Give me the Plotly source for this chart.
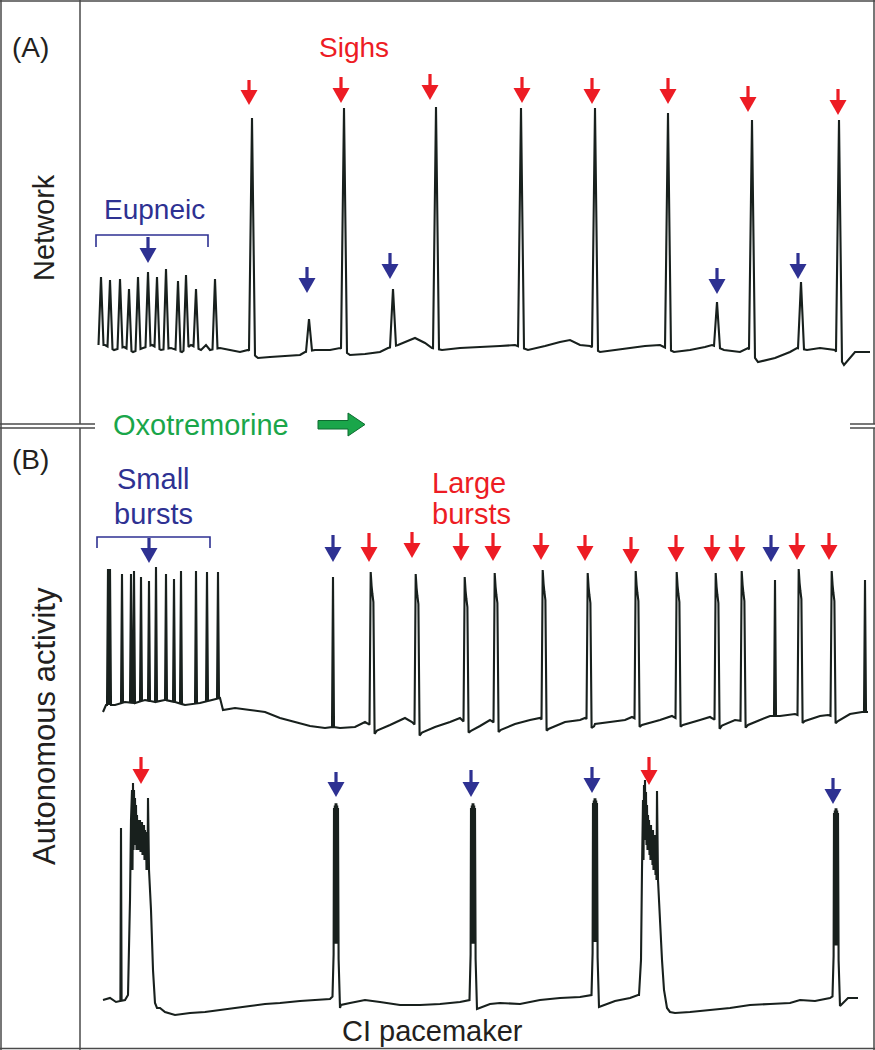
import numpy as np
import plotly.graph_objects as go

# ================= DATA =================
# time axis in arbitrary units, amplitudes in arbitrary units (baseline ~ 0-30)

# ---- Panel A : network recording ----
A_base_t = [100, 105, 114, 124, 133, 143, 152, 161, 171, 182, 191, 201, 206, 210, 220, 230, 240, 248,
            258, 270, 285, 300, 305, 315, 330, 340, 350, 365, 380, 388, 398, 410, 415, 425, 432, 442,
            460, 480, 500, 515, 528, 545, 560, 570, 580, 590, 600, 615, 630, 645, 660, 674, 690, 705,
            712, 724, 740, 748, 758, 775, 790, 797, 807, 820, 835, 844, 855, 870]
A_base_v = [15, 15, 10, 13, 8, 12, 15, 10, 12, 8, 15, 10, 15, 10, 12, 10, 8, 10,
            2, 3, 4, 5, 8, 10, 10, 12, 5, 6, 8, 12, 15, 20, 22, 17, 12, 10,
            12, 13, 14, 15, 10, 14, 18, 20, 15, 14, 8, 10, 12, 14, 15, 8, 10, 13,
            15, 10, 8, 12, -2, 2, 8, 12, 10, 12, 10, -5, 8, 8]
A_eupneic_t = [101, 110, 120, 129, 138, 148, 157, 166, 178, 186, 196, 215]
A_eupneic_v = [83, 80, 81, 71, 83, 88, 83, 91, 79, 85, 71, 81]
A_sigh_t = [252, 344, 436, 521, 595, 668, 752, 839]
A_sigh_v = [242, 252, 253, 252, 252, 247, 240, 240]
A_small_t = [309, 393, 717, 801]
A_small_v = [41, 71, 58, 78]

# ---- Panel B (upper) : autonomous activity ----
B1_base_t = [103, 106, 115, 125, 135, 145, 155, 165, 175, 185, 200, 212, 220, 223, 235, 250, 265, 280,
             295, 310, 325, 333, 340, 355, 365, 375, 390, 405, 412, 420, 435, 450, 460, 470, 480, 490,
             500, 515, 530, 540, 548, 565, 580, 585, 595, 610, 625, 632, 642, 660, 672, 683, 700, 710,
             720, 735, 748, 760, 770, 780, 795, 805, 820, 828, 838, 850, 862, 868]
B1_base_v = [18, 25, 25, 28, 27, 30, 28, 30, 28, 25, 27, 30, 32, 20, 22, 20, 18, 12,
             8, 4, 2, 3, 2, 3, 8, 2, 5, 12, 8, 0, 3, 8, 12, 2, 4, 10,
             3, 6, 10, 12, 4, 8, 10, 12, 6, 8, 10, 13, 8, 10, 14, 8, 10, 13,
             7, 10, 8, 10, 14, 14, 16, 12, 14, 15, 12, 16, 18, 18]
B1_smallburst_t = [108, 110, 122, 131, 134, 141, 149, 156, 166, 174, 181, 196, 207, 218]
B1_smallburst_v = [161, 161, 156, 156, 159, 153, 149, 163, 156, 151, 159, 159, 158, 158]
B1_single_t = [333, 775, 865]
B1_single_v = [153, 150, 150]
B1_large_t = [371, 416, 465, 495, 543, 588, 636, 677, 716, 742, 799, 832]
B1_large_v = [158, 156, 153, 157, 160, 157, 159, 158, 157, 159, 161, 159]

# ---- Panel B (lower) : CI pacemaker ----
B2_base_t = [103, 110, 116, 125, 128, 156, 160, 165, 175, 190, 205, 220, 235, 250, 265, 280, 300, 315,
             330, 333, 341, 350, 365, 380, 400, 420, 440, 460, 470, 477, 490, 500, 520, 540, 560, 580,
             592, 599, 615, 630, 638, 668, 675, 690, 710, 730, 750, 770, 790, 800, 815, 830, 833, 840,
             848, 858]
B2_base_v = [20, 22, 18, 20, 25, 17, 12, 8, 5, 7, 8, 10, 12, 14, 16, 17, 19, 20,
             21, 24, 15, 17, 20, 18, 15, 15, 16, 18, 20, 15, 16, 17, 16, 20, 22, 23,
             25, 17, 19, 22, 25, 10, 7, 8, 10, 12, 15, 16, 17, 20, 19, 22, 24, 18,
             22, 22]
B2_thin_t = [121]
B2_thin_v = [192]
B2_pacemaker_t = [336, 473, 595, 836]
B2_pacemaker_v = [218, 218, 223, 213]
B2_plateau1_t = [128, 130, 131, 132,
                 132.5, 133, 133.5, 134, 134.5, 135, 135.5, 136, 136.5, 137, 137.5, 138, 138.5, 139,
                 139.5, 140, 140.5, 141, 141.5, 142, 142.5, 143, 143.5, 144, 144.5, 145, 145.5, 146,
                 146.5, 147, 147.5, 148,
                 149, 151, 153, 155, 157]
B2_plateau1_v = [25, 120, 200, 230,
                 150, 237, 170, 230, 175, 222, 180, 215, 170, 205, 175, 200, 170, 198,
                 172, 200, 168, 195, 170, 198, 165, 195, 168, 195, 160, 190, 160, 188,
                 150, 185, 150, 222,
                 150, 110, 50, 17, 12]
B2_plateau2_t = [639, 641, 642,
                 643, 643.5, 644, 644.5, 645, 645.5, 646, 646.5, 647, 647.5, 648, 648.5, 649, 649.5,
                 650, 650.5, 651, 651.5, 652, 652.5, 653, 653.5, 654, 654.5, 655, 655.5, 656, 656.5, 657,
                 658, 660, 662, 664, 667, 670]
B2_plateau2_v = [25, 60, 150,
                 220, 160, 235, 180, 240, 185, 228, 175, 215, 170, 205, 170, 200, 165,
                 195, 160, 195, 160, 190, 155, 190, 150, 185, 150, 185, 145, 180, 140, 229,
                 140, 100, 60, 30, 12, 8]

# ================= helpers =================
W, H = 875, 1050
TRACE = "#18201d"
RED = "#ED1C24"
BLUE = "#2E3192"
GREEN = "#1AA64A"
FRAME = "#4a4a4a"
FONT = "Liberation Sans, Arial, sans-serif"


def base_fn(bt, bv):
    return lambda t: float(np.interp(t, bt, bv))


def sharp(t, P, w, b):
    return [(t - w, b(t - w)), (t, P), (t + w, b(t + w))]


def large(t, P, b):
    return [(t - 1.5, b(t - 1.5)), (t - 0.3, P), (t + 0.6, P - 14), (t + 1.4, P - 22),
            (t + 2.4, P - 30), (t + 3.6, b(t + 3.6) - 6), (t + 6, b(t + 6) - 3)]


def pacemaker(t, P, b):
    pts = [(t - 3.5, b(t - 3.5)), (t - 2.4, 0.3 * P)]
    for i, dx in enumerate(np.arange(-2.0, 2.01, 0.4)):
        pts.append((t + dx, P - 3 * abs(dx) if i % 2 == 0 else 0.35 * P))
    pts += [(t + 2.6, 0.28 * P), (t + 4.0, b(t + 4.0) - 4)]
    return pts


def assemble(bt, bv, events):
    spans, ev = [], []
    for e in events:
        xs = [p[0] for p in e]
        spans.append((min(xs), max(xs)))
        ev += e
    keep = [p for p in zip(bt, bv) if not any(a <= p[0] <= c for a, c in spans)]
    allp = sorted(keep + ev, key=lambda p: p[0])
    return [float(p[0]) for p in allp], [float(p[1]) for p in allp]


# ---- build traces ----
bA = base_fn(A_base_t, A_base_v)
evA = [sharp(t, v, 2.5, bA) for t, v in zip(A_eupneic_t, A_eupneic_v)]
evA += [sharp(t, v, 3, bA) for t, v in zip(A_sigh_t, A_sigh_v)]
evA += [sharp(t, v, 3, bA) for t, v in zip(A_small_t, A_small_v)]
Ax, Ay = assemble(A_base_t, A_base_v, evA)

bB1 = base_fn(B1_base_t, B1_base_v)
evB1 = [sharp(t, v, 1.0, bB1) for t, v in zip(B1_smallburst_t, B1_smallburst_v)]
evB1 += [sharp(t, v, 1.0, bB1) for t, v in zip(B1_single_t, B1_single_v)]
evB1 += [large(t, v, bB1) for t, v in zip(B1_large_t, B1_large_v)]
B1x, B1y = assemble(B1_base_t, B1_base_v, evB1)

bB2 = base_fn(B2_base_t, B2_base_v)
evB2 = [sharp(t, v, 0.6, bB2) for t, v in zip(B2_thin_t, B2_thin_v)]
evB2 += [pacemaker(t, v, bB2) for t, v in zip(B2_pacemaker_t, B2_pacemaker_v)]
evB2 += [list(zip(B2_plateau1_t, B2_plateau1_v)), list(zip(B2_plateau2_t, B2_plateau2_v))]
B2x, B2y = assemble(B2_base_t, B2_base_v, evB2)

fig = go.Figure()
for xs, ys, ya in [(Ax, Ay, "y"), (B1x, B1y, "y2"), (B2x, B2y, "y3")]:
    fig.add_trace(go.Scatter(x=xs, y=ys, mode="lines", xaxis="x", yaxis=ya,
                             line=dict(color=TRACE, width=2.1, simplify=False),
                             hoverinfo="skip", showlegend=False))
# invisible trace for the overlay (layout) axis
fig.add_trace(go.Scatter(x=[0, W], y=[0, H], mode="markers", xaxis="x", yaxis="y4",
                         marker=dict(opacity=0), hoverinfo="skip", showlegend=False))

shapes = []


def line(x0, y0, x1, y1, color=FRAME, width=1.5):
    shapes.append(dict(type="line", xref="x", yref="y4", x0=x0, y0=y0, x1=x1, y1=y1,
                       line=dict(color=color, width=width), layer="above"))


def arrow(x, top, tip, color, head_h=15, head_w=17, stem_w=3.2):
    line(x, top, x, tip - head_h + 1, color, stem_w)
    shapes.append(dict(type="path", xref="x", yref="y4",
                       path=f"M {x - head_w / 2},{tip - head_h} L {x + head_w / 2},{tip - head_h} L {x},{tip} Z",
                       fillcolor=color, line=dict(width=0), layer="above"))


# ---- frame ----
line(0, 1, W, 1)
line(1, 0, 1, H)
line(0, 1048.5, W, 1048.5)
line(874, 0, 874, 424)
line(874, 428, 874, H)
line(80, 0, 80, 424)
line(80, 428, 80, H)
for yy in (424, 428):
    line(0, yy, 95, yy)
    line(850, yy, W, yy)

# ---- brackets ----
shapes.append(dict(type="path", xref="x", yref="y4", path="M 96,247 L 96,235 L 208,235 L 208,247",
                   line=dict(color=BLUE, width=1.6)))
shapes.append(dict(type="path", xref="x", yref="y4", path="M 97,548 L 97,537 L 210,537 L 210,548",
                   line=dict(color=BLUE, width=1.6)))

# ---- arrows ----
for x, t0, t1 in [(249, 80, 105), (341, 77, 103), (430, 74, 100), (522, 77, 103), (592, 78, 104),
                  (668, 78, 104), (748, 86, 112), (838, 89, 115)]:
    arrow(x, t0, t1, RED)
for x, t0, t1 in [(148, 237, 263), (307, 267, 293), (390, 253, 279), (717, 268, 294), (798, 253, 279)]:
    arrow(x, t0, t1, BLUE)
for x, t0, t1 in [(149, 538, 563), (333, 535, 562), (771, 535, 562)]:
    arrow(x, t0, t1, BLUE)
for x, t0, t1 in [(369, 533, 562), (412, 532, 558), (461, 533, 561), (493, 533, 561), (541, 533, 560),
                  (585, 535, 561), (631, 537, 564), (676, 535, 562), (712, 535, 562), (737, 535, 562),
                  (797, 533, 560), (829, 533, 560)]:
    arrow(x, t0, t1, RED)
for x, t0, t1 in [(141, 757, 784), (649, 757, 785)]:
    arrow(x, t0, t1, RED)
for x, t0, t1 in [(336, 772, 797), (471, 770, 797), (592, 767, 793), (833, 778, 804)]:
    arrow(x, t0, t1, BLUE)

# ---- green drug arrow ----
shapes.append(dict(type="path", xref="x", yref="y4",
                   path="M 318,420.5 L 348,420.5 L 348,413 L 365,424.5 L 348,436 L 348,429 L 318,429 Z",
                   fillcolor=GREEN, line=dict(color="#0E6B30", width=1)))

# ---- texts ----
annotations = []


def text(s, x, y, color="#231F20", size=28, angle=0):
    annotations.append(dict(text=s, x=x, y=y, xref="x", yref="y4", showarrow=False,
                            xanchor="center", yanchor="middle", textangle=angle,
                            font=dict(family=FONT, size=size, color=color)))


text("(A)", 30, 47)
text("Network", 44, 228, size=29, angle=-90)
text("Sighs", 354, 47, RED)
text("Eupneic", 154, 209, BLUE)
text("Oxotremorine", 201, 425, GREEN, size=29)
text("(B)", 30, 459)
text("Small", 153, 479, BLUE, size=29)
text("bursts", 153, 514, BLUE, size=29)
text("Large", 469, 483, RED, size=29)
text("bursts", 471, 514, RED, size=29)
text("Autonomous activity", 44, 726, size=31, angle=-90)
text("CI pacemaker", 432, 1031, size=29)

hidden = dict(visible=False, fixedrange=True, showgrid=False, zeroline=False)
fig.update_layout(
    width=W, height=H, margin=dict(l=0, r=0, t=0, b=0),
    paper_bgcolor="white", plot_bgcolor="rgba(0,0,0,0)", showlegend=False,
    xaxis=dict(range=[0, W], domain=[0, 1], **hidden),
    yaxis=dict(range=[-20, 300], domain=[1 - 380 / H, 1 - 60 / H], anchor="x", **hidden),
    yaxis2=dict(range=[-10, 190], domain=[1 - 740 / H, 1 - 540 / H], anchor="x", **hidden),
    yaxis3=dict(range=[-10, 260], domain=[1 - 1030 / H, 1 - 760 / H], anchor="x", **hidden),
    yaxis4=dict(range=[H, 0], domain=[0, 1], anchor="x", **hidden),
    shapes=shapes, annotations=annotations,
)

fig.write_html("out.html", config={"displayModeBar": False},
               post_script="document.body.style.margin='0px';document.body.style.padding='0px';")
